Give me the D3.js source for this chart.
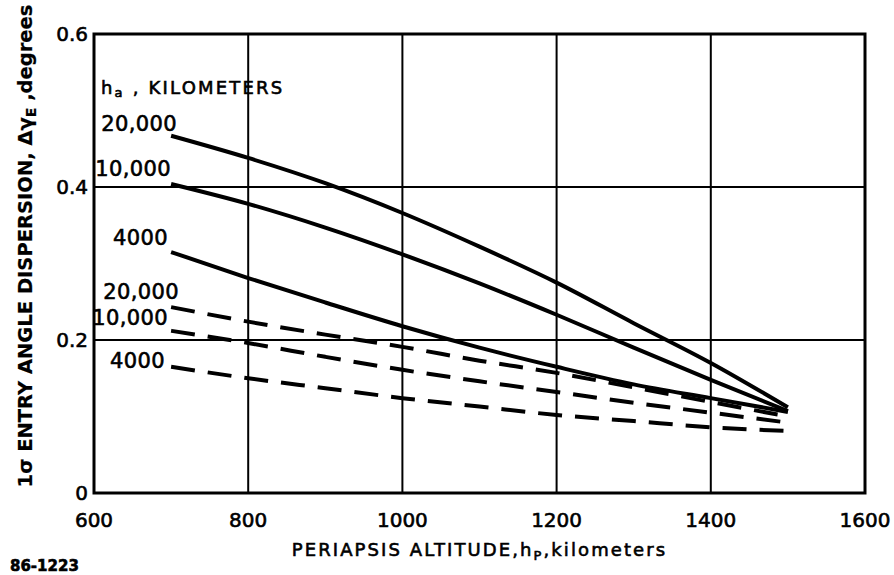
<!DOCTYPE html>
<html>
<head>
<meta charset="utf-8">
<script src="https://cdn.jsdelivr.net/npm/d3@7"></script>
<style>
  body { margin: 0; background: #fff; }
  text { font-family: "DejaVu Sans", sans-serif; fill: #000; stroke: #000; stroke-width: 0.6px; }
</style>
</head>
<body>
<div id="chart"></div>
<script>
// periapsis altitude, km
const altitudes = [700, 800, 900, 1000, 1100, 1200, 1300, 1400, 1500];

// 1-sigma entry angle dispersion, degrees
const solid20000 = [0.467, 0.438, 0.405, 0.366, 0.322, 0.275, 0.222, 0.170, 0.112];
const solid10000 = [0.404, 0.378, 0.347, 0.312, 0.274, 0.233, 0.190, 0.148, 0.107];
const solid4000  = [0.315, 0.281, 0.249, 0.218, 0.190, 0.165, 0.142, 0.124, 0.106];
const dash20000  = [0.243, 0.224, 0.207, 0.191, 0.173, 0.157, 0.138, 0.119, 0.100];
const dash10000  = [0.212, 0.196, 0.178, 0.161, 0.146, 0.132, 0.118, 0.105, 0.092];
const dash4000   = [0.165, 0.150, 0.137, 0.124, 0.113, 0.102, 0.094, 0.086, 0.081];

const xTicks = [600, 800, 1000, 1200, 1400, 1600];
const yTicks = [0, 0.2, 0.4, 0.6];
const yTickLabels = ["0", "0.2", "0.4", "0.6"];

const series = [
  { name: "20,000", values: solid20000, dashed: false },
  { name: "10,000", values: solid10000, dashed: false },
  { name: "4000",   values: solid4000,  dashed: false },
  { name: "20,000", values: dash20000,  dashed: true },
  { name: "10,000", values: dash10000,  dashed: true },
  { name: "4000",   values: dash4000,   dashed: true }
];
// label offsets from curve start (pixels)
const labelOffsets = [[6, -5], [0, -8], [-3, -7], [8, -8], [-3, -6], [-6, 1]];

const width = 894, height = 575;
const margin = { left: 94, right: 29, top: 34, bottom: 82 };

const svg = d3.select("#chart").append("svg")
  .attr("width", width)
  .attr("height", height);

const x = d3.scaleLinear().domain([600, 1600]).range([margin.left, width - margin.right]);
const y = d3.scaleLinear().domain([0, 0.6]).range([height - margin.bottom, margin.top]);

// grid
svg.append("g")
  .selectAll("line")
  .data(xTicks.slice(1, -1))
  .enter().append("line")
  .attr("x1", d => x(d)).attr("x2", d => x(d))
  .attr("y1", y(0)).attr("y2", y(0.6))
  .attr("stroke", "#000").attr("stroke-width", 2);

svg.append("g")
  .selectAll("line")
  .data(yTicks.slice(1, -1))
  .enter().append("line")
  .attr("x1", x(600)).attr("x2", x(1600))
  .attr("y1", d => y(d)).attr("y2", d => y(d))
  .attr("stroke", "#000").attr("stroke-width", 2);

// frame
svg.append("rect")
  .attr("x", x(600)).attr("y", y(0.6))
  .attr("width", x(1600) - x(600)).attr("height", y(0) - y(0.6))
  .attr("fill", "none").attr("stroke", "#000").attr("stroke-width", 3);

// tick labels
svg.append("g")
  .selectAll("text")
  .data(xTicks)
  .enter().append("text")
  .attr("x", d => x(d))
  .attr("y", y(0) + 34)
  .attr("text-anchor", "middle")
  .attr("font-size", "20px")
  .text(d => d);

svg.append("g")
  .selectAll("text")
  .data(yTicks)
  .enter().append("text")
  .attr("x", x(600) - 6)
  .attr("y", d => y(d) + 7)
  .attr("text-anchor", "end")
  .attr("font-size", "20px")
  .text((d, i) => yTickLabels[i]);

// curves
const line = d3.line()
  .x((d, i) => x(altitudes[i]))
  .y(d => y(d))
  .curve(d3.curveMonotoneX);

svg.append("g")
  .selectAll("path")
  .data(series)
  .enter().append("path")
  .attr("d", d => line(d.values))
  .attr("fill", "none")
  .attr("stroke", "#000")
  .attr("stroke-width", 4)
  .attr("stroke-dasharray", d => d.dashed ? "24,13" : null);

// curve labels
svg.append("g")
  .selectAll("text")
  .data(series)
  .enter().append("text")
  .attr("x", (d, i) => x(altitudes[0]) + labelOffsets[i][0])
  .attr("y", (d, i) => y(d.values[0]) + labelOffsets[i][1])
  .attr("text-anchor", "end")
  .attr("font-size", "21px")
  .attr("letter-spacing", "0.4px")
  .text(d => d.name);

const legendTitle = svg.append("text")
  .attr("x", x(600) + 7)
  .attr("y", 94)
  .attr("font-size", "18px")
  .attr("letter-spacing", "2.2px");
legendTitle.append("tspan").text("h");
legendTitle.append("tspan").attr("font-size", "13px").attr("dy", 3).text("a");
legendTitle.append("tspan").attr("dy", -3).text(" , KILOMETERS");

// axis titles
const xTitle = svg.append("text")
  .attr("x", (x(600) + x(1600)) / 2)
  .attr("y", 556)
  .attr("text-anchor", "middle")
  .attr("font-size", "18px")
  .attr("letter-spacing", "2.1px");
xTitle.append("tspan").text("PERIAPSIS ALTITUDE,h");
xTitle.append("tspan").attr("font-size", "13px").attr("dy", 4).text("P");
xTitle.append("tspan").attr("dy", -4).text(",kilometers");

const yTitle = svg.append("text")
  .attr("transform", `translate(32, 246) rotate(-90)`)
  .attr("text-anchor", "middle")
  .attr("font-family", "'Liberation Sans', sans-serif")
  .attr("font-weight", "bold")
  .attr("font-size", "19.5px")
  .style("stroke-width", "0.2px");
yTitle.append("tspan").text("1σ ENTRY ANGLE DISPERSION, Δγ");
yTitle.append("tspan").attr("font-size", "14px").attr("dy", 4).text("E");
yTitle.append("tspan").attr("dy", -4).text(" ,degrees");

svg.append("text")
  .attr("x", 10).attr("y", 571)
  .attr("font-size", "15px")
  .attr("font-weight", "bold")
  .text("86-1223");
</script>
</body>
</html>
